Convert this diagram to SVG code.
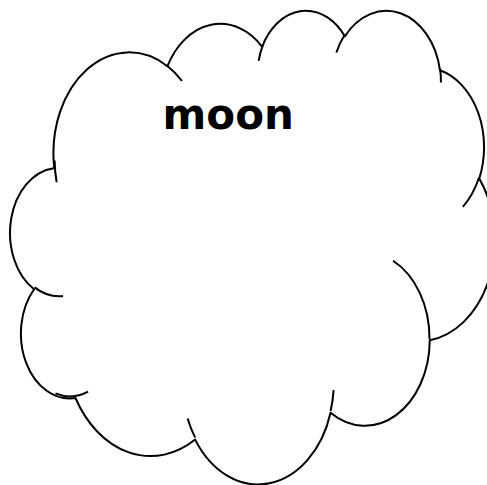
<svg xmlns="http://www.w3.org/2000/svg" width="487" height="485" viewBox="0 0 487 485">
  <style>
    .cloud { fill: #ffffff; stroke: #000000; stroke-width: 2; stroke-linejoin: round; }
    .inner { fill: none; stroke: #000000; stroke-width: 2; stroke-linecap: butt; }
    .label { font-family: "DejaVu Sans", "Liberation Sans", sans-serif; font-weight: bold; font-size: 42px; fill: #000000; text-anchor: middle; }
  </style>
  <rect x="0" y="0" width="487" height="485" fill="#ffffff"/>
  <g id="moon">
    <path class="cloud" d="M 54.12 166.68
      A 75.72 100.73 0 0 1 167.41 66.18
      A 59.79 79.65 0 0 1 262.15 46.78
      A 48.94 65.16 0 0 1 344.86 36.34
      A 54.46 72.29 0 0 1 439.99 70.27
      A 59.79 79.72 0 0 1 479.24 178.60
      A 75.96 101.06 0 0 1 429.76 340.23
      A 64.86 86.23 0 0 1 330.56 412.68
      A 75.70 101.01 0 0 1 195.18 439.58
      A 86.56 115.56 0 0 1 75.49 397.99
      A 48.88 64.87 0 0 1 34.09 289.25
      A 48.72 65.16 0 0 1 53.72 168.21 Z"/>
    <path class="inner" d="M 63.01 296.10 A 48.72 65.16 0 0 1 34.60 287.36
      M 88.07 391.70 A 48.88 64.87 0 0 1 55.47 393.41
      M 195.14 437.64 A 75.70 101.01 0 0 1 187.63 418.52
      M 333.60 390.08 A 75.70 101.01 0 0 1 330.61 411.01
      M 393.04 260.77 A 64.86 86.23 0 0 1 429.50 338.98
      M 479.03 177.47 A 59.79 79.72 0 0 1 462.79 206.80
      M 440.08 68.64 A 54.46 72.29 0 0 1 440.94 82.50
      M 336.41 52.49 A 54.46 72.29 0 0 1 344.73 34.81
      M 258.64 60.91 A 48.94 65.16 0 0 1 262.67 45.67
      M 167.36 66.08 A 75.72 100.73 0 0 1 181.94 80.86
      M 56.66 182.23 A 75.72 100.73 0 0 1 54.61 160.40"/>
    <text class="label" x="228.3" y="129.3">moon</text>
  </g>
  <g id="connectors"/>
</svg>
